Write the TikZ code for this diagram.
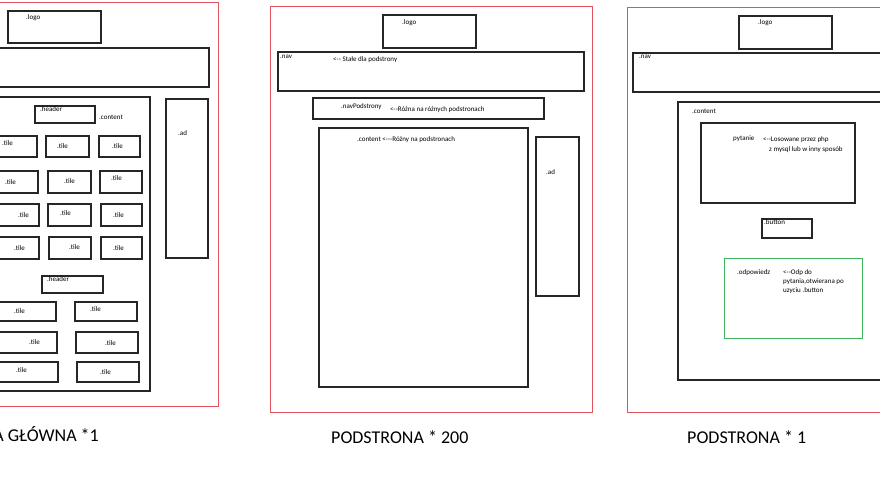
\documentclass[tikz,border=0pt]{standalone}
\usepackage{fontspec}
\setmainfont{Carlito}[Ligatures=TeXOff]
\definecolor{framered}{HTML}{E0545E}
\definecolor{boxgreen}{HTML}{40B45C}
\tikzset{
  pageframe/.style={draw=framered, line width=1pt},
  boxline/.style={draw=black!85, line width=1.6pt},
  lbl/.style={font=\fontsize{7}{8}\selectfont, inner sep=0pt, anchor=west},
  pagetitle/.style={font=\fontsize{18}{20}\selectfont, inner sep=0pt},
}

\begin{document}
\begin{tikzpicture}[x=1pt,y=-1pt]
    \useasboundingbox (0,0) rectangle (880,480);

    % strona glowna
    \draw[pageframe] (-5,2) rectangle (218,406);
    \draw[boxline] (8,11) rectangle (101,43);
    \node[lbl] (logoA) at (26,18) {.logo};
    \draw[boxline] (-5,48) rectangle (209,87);
    \draw[boxline] (-5,97) rectangle (150,391);
    \draw[boxline] (35,106) rectangle (95,123);
    \node[lbl] (headerA) at (40,109) {.header};
    \node[lbl] (contentA) at (99,117) {.content};
    \draw[boxline] (166,99) rectangle (208,258);
    \node[lbl] (adA) at (178,133) {.ad};
    \foreach \xa/\xb/\ya/\yb/\lx/\ly [count=\i] in {
        -5/37/136/157/2/143, 46/89/136/157/57/146, 99/140/136/157/112/146,
        -5/38/171/193/5/182, 48/91/171/193/64/181, 100/142/171/193/111/178,
        -5/39/204/226/18/215, 48/91/204/226/60/213, 101/142/204/226/113/215,
        -5/39/237/259/14/248, 49/91/237/259/69/247, 101/142/237/259/113/248,
        -5/56/302/321/14/311, 75/137/302/321/90/309,
        -5/57/332/353/29/342, 76/138/332/353/105/343,
        -5/58/362/382/16/370, 77/139/362/382/100/372} {
      \draw[boxline] (\xa,\ya) rectangle (\xb,\yb);
      \node[lbl] (tile\i) at (\lx,\ly) {.tile};
    }
    \draw[boxline] (42,276) rectangle (103,293);
    \node[lbl] (headerB) at (47,279) {.header};
    \node[pagetitle, anchor=base east] (titleA) at (99,441) {A GŁÓWNA *1};

    % podstrona * 200
    \draw[pageframe] (270,6) rectangle (592,412);
    \draw[boxline] (383,15) rectangle (476,48);
    \node[lbl] (logoB) at (402,23) {.logo};
    \draw[boxline] (278,52) rectangle (584,91);
    \node[lbl] (navB) at (280,57) {.nav};
    \node[lbl] (navnoteB) at (333,60) {<-- Stałe dla podstrony};
    \draw[boxline] (313,98) rectangle (544,119);
    \node[lbl] (navpodB) at (341,107) {.navPodstrony};
    \node[lbl] (navpodnoteB) at (390,110) {<--Różna na różnych podstronach};
    \draw[boxline] (319,128) rectangle (528,387);
    \node[lbl] (contentB) at (357,140) {.content <---Różny na podstronach};
    \draw[boxline] (536,137) rectangle (579,296);
    \node[lbl] (adB) at (546,172) {.ad};
    \node[pagetitle, anchor=base west] (titleB) at (331,443) {PODSTRONA * 200};

    % podstrona * 1
    \draw[pageframe] (627,7) rectangle (890,412);
    \draw[boxline] (739,16) rectangle (832,49);
    \node[lbl] (logoC) at (758,23) {.logo};
    \draw[boxline] (633,53) rectangle (890,92);
    \node[lbl] (navC) at (639,57) {.nav};
    \draw[boxline] (678,102) rectangle (890,380);
    \node[lbl] (contentC) at (692,111) {.content};
    \draw[boxline] (701,123) rectangle (855,203);
    \node[lbl] (pytanie) at (733,139) {pytanie};
    \node[lbl] (pytnoteA) at (763,140) {<--Losowane przez php};
    \node[lbl] (pytnoteB) at (769,150) {z mysql lub w inny sposób};
    \draw[boxline] (762,219) rectangle (812,238);
    \node[lbl] (button) at (764,222) {.button};
    \draw[draw=boxgreen, line width=1pt] (724,258) rectangle (862,338);
    \node[lbl] (odp) at (737,273) {.odpowiedz};
    \node[lbl] (odpnoteA) at (783,273) {<--Odp do};
    \node[lbl] (odpnoteB) at (783,282) {pytania,otwierana po};
    \node[lbl] (odpnoteC) at (783,291) {uzyciu .button};
    \node[pagetitle, anchor=base west] (titleC) at (687,443) {PODSTRONA * 1};
\end{tikzpicture}
\end{document}
